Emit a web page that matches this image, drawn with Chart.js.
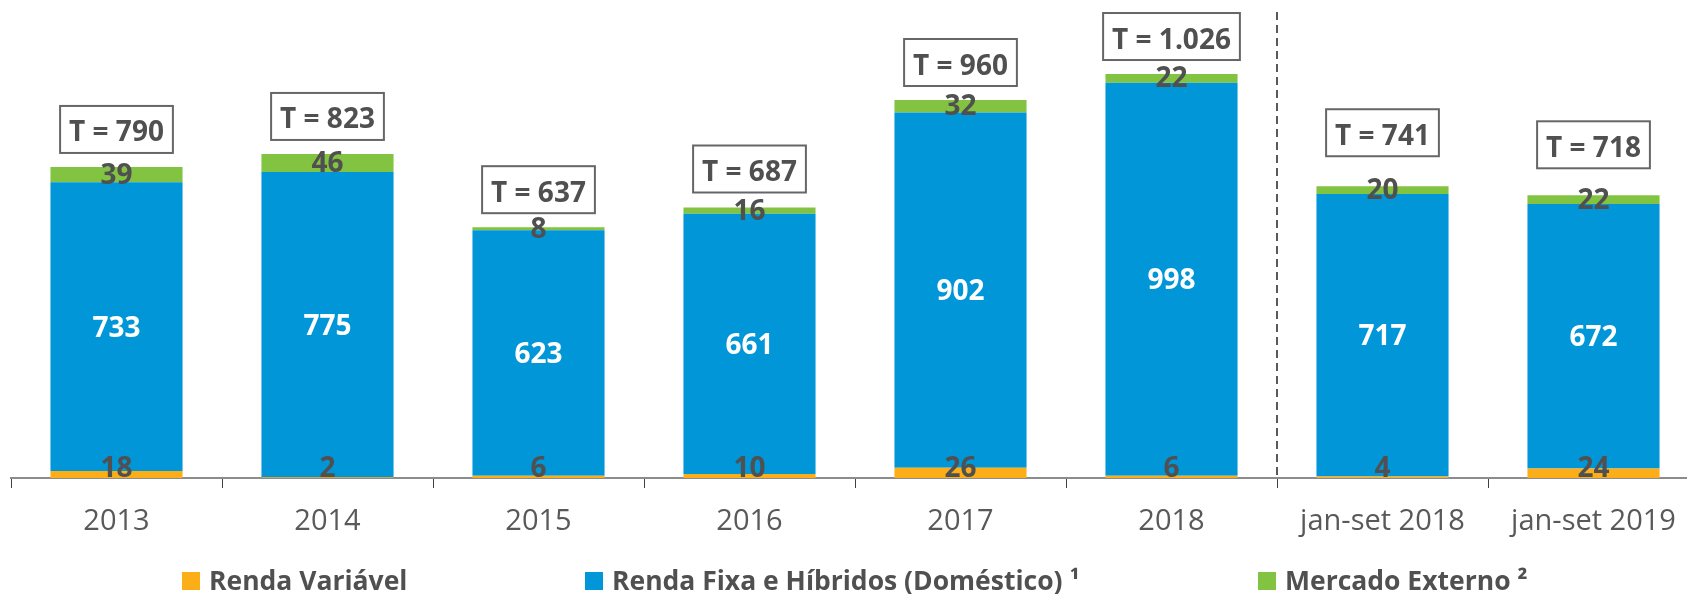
<!DOCTYPE html>
<html>
<head>
<meta charset="utf-8">
<script src="https://cdn.jsdelivr.net/npm/chart.js@4.4.0/dist/chart.umd.min.js"></script>
<style>
  html, body { margin: 0; padding: 0; background: #fff; overflow: hidden; }
  #wrap { width: 1700px; height: 594px; }
</style>
</head>
<body>
<div id="wrap"><canvas id="chart" width="1700" height="594"></canvas></div>
<script>
// data
const categories = ['2013', '2014', '2015', '2016', '2017', '2018', 'jan-set 2018', 'jan-set 2019'];
const rendaVariavel = [18, 2, 6, 10, 26, 6, 4, 24];
const rendaFixa = [733, 775, 623, 661, 902, 998, 717, 672];
const mercadoExterno = [39, 46, 8, 16, 32, 22, 20, 22];
const totals = ['790', '823', '637', '687', '960', '1.026', '741', '718'];
const seriesNames = ['Renda Variável', 'Renda Fixa e Híbridos (Doméstico) ¹', 'Mercado Externo ²'];

const colors = ['#FBAE17', '#0096D8', '#82C341'];
const FONT = '"Open Sans", sans-serif';
const textColor = '#505050';
// space between the top of a bar and its total box
const boxGap = [14, 14, 14, 15, 14, 14, 30, 27];
// left edge of each legend swatch
const legendX = [182, 585, 1258];

const labelsPlugin = {
  id: 'labelsPlugin',
  afterDatasetsDraw(chart) {
    const ctx = chart.ctx;
    const area = chart.chartArea;
    const half = 10; // about half the cap height at 28px
    ctx.save();
    ctx.font = 'bold 28px ' + FONT;
    ctx.textAlign = 'center';
    ctx.textBaseline = 'alphabetic';

    // segment values
    chart.data.datasets.forEach((ds, di) => {
      const meta = chart.getDatasetMeta(di);
      meta.data.forEach((bar, i) => {
        let cy = (bar.y + bar.base) / 2;
        if (di === 0) cy = Math.min(cy, area.bottom - 11);
        if (di === 2) cy -= 1;
        ctx.fillStyle = di === 1 ? '#ffffff' : textColor;
        ctx.fillText(String(ds.data[i]), bar.x, cy + half);
      });
    });

    // total boxes
    const topMeta = chart.getDatasetMeta(2);
    topMeta.data.forEach((bar, i) => {
      const txt = 'T = ' + totals[i];
      const w = ctx.measureText(txt).width + 18;
      const h = 47;
      const bottom = bar.y - boxGap[i];
      ctx.fillStyle = '#ffffff';
      ctx.fillRect(bar.x - w / 2, bottom - h, w, h);
      ctx.strokeStyle = '#666666';
      ctx.lineWidth = 2;
      ctx.strokeRect(bar.x - w / 2, bottom - h, w, h);
      ctx.fillStyle = textColor;
      ctx.fillText(txt, bar.x, bottom - h / 2 + 2 + half);
    });

    // dashed separator between 2018 and jan-set 2018
    const xs = chart.scales.x;
    const sepX = Math.round((xs.getPixelForValue(5) + xs.getPixelForValue(6)) / 2);
    ctx.setLineDash([8, 5]);
    ctx.strokeStyle = '#595959';
    ctx.lineWidth = 2;
    ctx.beginPath();
    ctx.moveTo(sepX, 12);
    ctx.lineTo(sepX, area.bottom);
    ctx.stroke();
    ctx.setLineDash([]);

    // legend
    ctx.font = 'bold 26.5px ' + FONT;
    ctx.textAlign = 'left';
    seriesNames.forEach((n, k) => {
      ctx.fillStyle = colors[k];
      ctx.fillRect(legendX[k], 572, 18, 18);
      ctx.fillStyle = textColor;
      ctx.fillText(n, legendX[k] + 27, 590);
    });
    ctx.restore();
  }
};

new Chart(document.getElementById('chart'), {
  type: 'bar',
  data: {
    labels: categories,
    datasets: [
      { label: seriesNames[0], data: rendaVariavel, backgroundColor: colors[0] },
      { label: seriesNames[1], data: rendaFixa, backgroundColor: colors[1] },
      { label: seriesNames[2], data: mercadoExterno, backgroundColor: colors[2] }
    ]
  },
  options: {
    responsive: false,
    animation: false,
    devicePixelRatio: 1,
    layout: { padding: { left: 11, right: 1, top: 0, bottom: 0 } },
    datasets: {
      bar: { barPercentage: 0.626, categoryPercentage: 1, borderWidth: 0 }
    },
    plugins: {
      legend: { display: false },
      tooltip: { enabled: false }
    },
    scales: {
      x: {
        stacked: true,
        afterFit: s => {
          s.height = 116;
          s.paddingLeft = 0;
          s.paddingRight = 0;
        },
        grid: {
          display: true,
          drawOnChartArea: false,
          drawTicks: true,
          tickLength: 10,
          color: '#404040',
          lineWidth: 1,
          offset: true
        },
        border: { display: true, color: '#8c8c8c', width: 2 },
        ticks: {
          font: { family: FONT, size: 29 },
          color: '#595959',
          padding: 16,
          autoSkip: false,
          maxRotation: 0
        }
      },
      y: {
        stacked: true,
        display: false,
        min: 0,
        max: 1214
      }
    }
  },
  plugins: [labelsPlugin]
});
</script>
</body>
</html>
